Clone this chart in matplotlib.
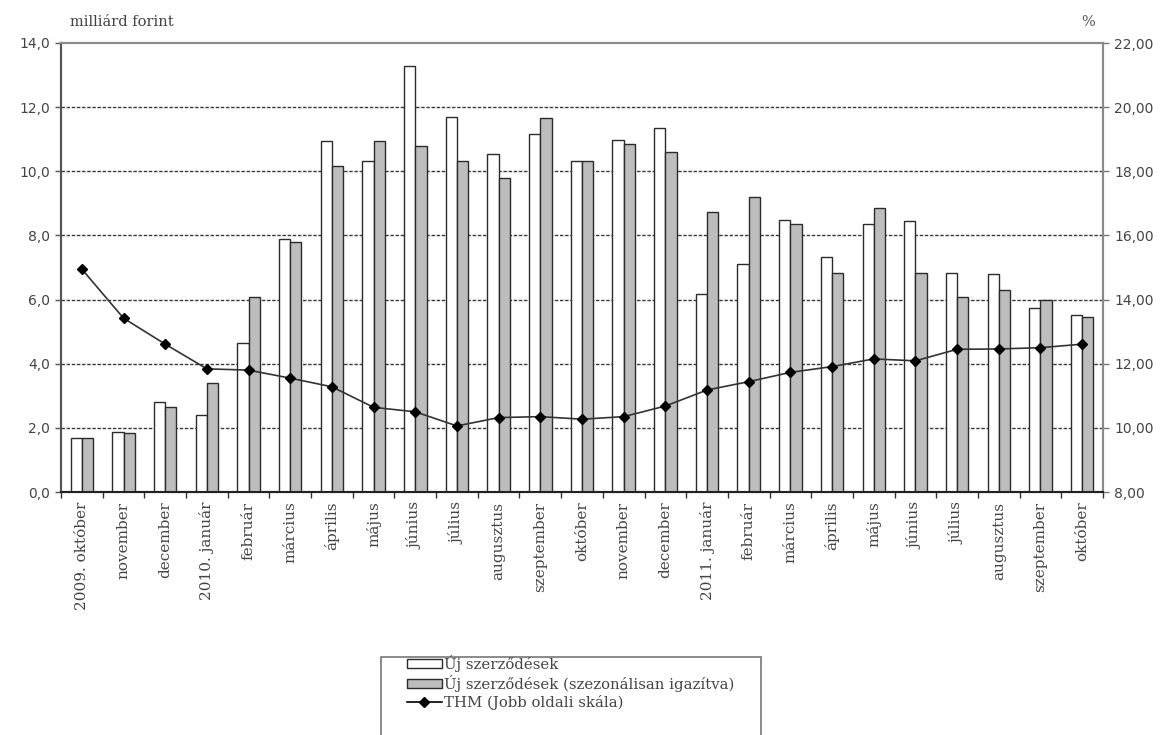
import matplotlib
matplotlib.use("Agg")
import matplotlib.pyplot as plt
import numpy as np
from matplotlib.patches import Patch, Rectangle
from matplotlib.lines import Line2D

categories = ["2009. október", "november", "december", "2010. január", "február",
              "március", "április", "május", "június", "július", "augusztus",
              "szeptember", "október", "november", "december", "2011. január",
              "február", "március", "április", "május", "június", "július",
              "augusztus", "szeptember", "október"]
uj = [1.68, 1.88, 2.82, 2.40, 4.66, 7.90, 10.95, 10.33, 13.28, 11.68, 10.54,
      11.16, 10.33, 10.97, 11.34, 6.16, 7.10, 8.48, 7.34, 8.35, 8.46, 6.84,
      6.80, 5.73, 5.52]
uj_sa = [1.68, 1.83, 2.64, 3.39, 6.09, 7.78, 10.17, 10.95, 10.79, 10.32, 9.78,
         11.65, 10.32, 10.85, 10.59, 8.72, 9.21, 8.36, 6.84, 8.84, 6.84, 6.09,
         6.30, 5.99, 5.47]
thm = [14.95, 13.42, 12.61, 11.84, 11.80, 11.55, 11.28, 10.64, 10.50, 10.06,
       10.32, 10.35, 10.27, 10.35, 10.68, 11.18, 11.44, 11.73, 11.91, 12.15,
       12.09, 12.45, 12.46, 12.50, 12.61]
left_ticks = [0, 2, 4, 6, 8, 10, 12, 14]
right_ticks = [8, 10, 12, 14, 16, 18, 20, 22]
legend_labels = ["Új szerződések", "Új szerződések (szezonálisan igazítva)",
                 "THM (Jobb oldali skála)"]

serif = "DejaVu Serif"
gray_fill = "#bdbdbd"
edge = "#2b2b2b"
tick_col = "#444444"
text_col = "#444444"

fig = plt.figure(figsize=(11.64, 7.35), dpi=100)
ax = fig.add_axes([61/1164, 1-492/735, 1042/1164, 449/735])
ax2 = ax.twinx()

x = np.arange(len(categories))
w = 0.27
ax.bar(x - w/2, uj, width=w, color="white", edgecolor=edge, linewidth=1.0, zorder=3)
ax.bar(x + w/2, uj_sa, width=w, color=gray_fill, edgecolor=edge, linewidth=1.0, zorder=3)

ax.set_ylim(0, 14)
ax.set_xlim(-0.5, len(categories) - 0.5)
ax.set_yticks(left_ticks)
ax.set_yticklabels([f"{v:.1f}".replace(".", ",") for v in left_ticks],
                   fontsize=10, color=tick_col)
for yv in left_ticks[1:-1]:
    ax.axhline(yv, color="#3a3a3a", linestyle=(0, (2.5, 1.2)), linewidth=1.0, zorder=1)

ax.set_xticks(np.arange(-0.5, len(categories), 1.0))
ax.set_xticklabels([])
ax.set_xticks(x, minor=True)
ax.set_xticklabels(categories, minor=True, rotation=90, va="top", ha="center",
                   family=serif, fontsize=11, color=text_col)
ax.tick_params(axis="x", which="major", length=4, width=1, color="#333333", direction="out")
ax.tick_params(axis="x", which="minor", length=0, pad=7)
ax.tick_params(axis="y", length=4, width=1, color="#555555", pad=4)

ax2.plot(x, thm, color="#333333", linewidth=1.2, marker="D", markersize=5.5,
         markerfacecolor="black", markeredgecolor="black", zorder=5)
ax2.set_ylim(8, 22)
ax2.set_yticks(right_ticks)
ax2.set_yticklabels([f"{v:.2f}".replace(".", ",") for v in right_ticks],
                    fontsize=10, color=tick_col)
ax2.tick_params(axis="y", length=4, width=1, color="#777777", pad=4)

for a in (ax, ax2):
    a.spines["top"].set_color("#8a8a8a")
    a.spines["top"].set_linewidth(1.5)
    a.spines["right"].set_color("#8a8a8a")
    a.spines["right"].set_linewidth(1.5)
    a.spines["left"].set_color("#555555")
    a.spines["left"].set_linewidth(1.5)
    a.spines["bottom"].set_color("#222222")
    a.spines["bottom"].set_linewidth(1.5)

fig.text(70/1164, 1-22/735, "milliárd forint", family=serif, fontsize=10.5,
         color=text_col, va="center", ha="left")
fig.text(1088/1164, 1-22/735, "%", family=serif, fontsize=10.5,
         color="#555555", va="center", ha="center")

# legend frame (extends past the bottom edge as in the reference)
fig.patches.append(Rectangle((381/1164, -10/735), 380/1164, (735-657+10)/735,
                             transform=fig.transFigure, facecolor="white",
                             edgecolor="#777777", linewidth=1.2, zorder=0))

handles = [Patch(facecolor="white", edgecolor=edge, linewidth=1.0),
           Patch(facecolor=gray_fill, edgecolor=edge, linewidth=1.0),
           Line2D([0], [0], color="black", linewidth=1.2, marker="D", markersize=5,
                  markerfacecolor="black")]
leg = fig.legend(handles, legend_labels, loc="upper left",
                 bbox_to_anchor=(407/1164, 1-655/735),
                 prop={"family": serif, "size": 10.7}, frameon=False,
                 handlelength=2.35, handleheight=0.55,
                 handletextpad=0.15, labelspacing=0.2, borderpad=0.0,
                 borderaxespad=0)
for t in leg.get_texts():
    t.set_color(text_col)

fig.savefig("out.png", dpi=100)
